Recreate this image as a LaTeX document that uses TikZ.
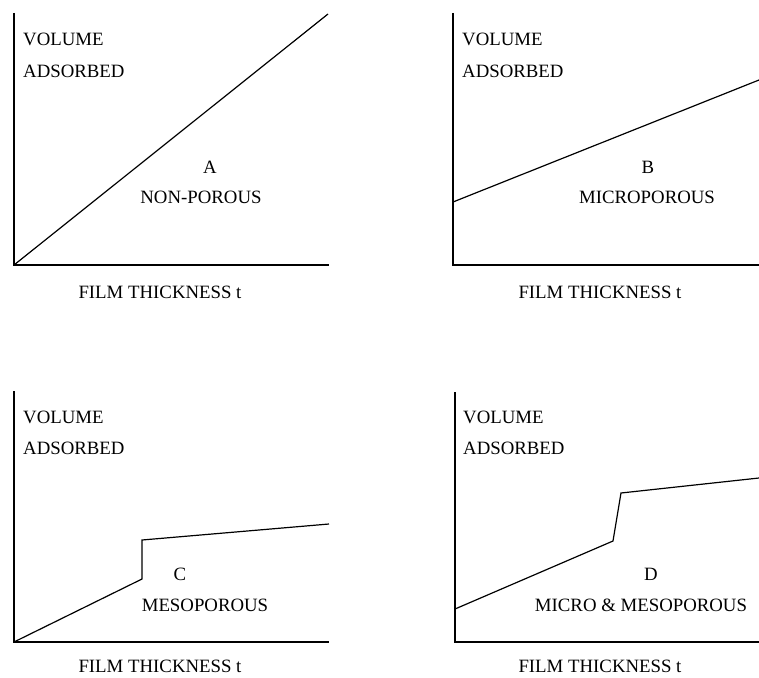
\documentclass[tikz,border=0pt]{standalone}
\usepackage{fontspec}
\setmainfont{Liberation Serif}
\usetikzlibrary{positioning}

\begin{document}
\begin{tikzpicture}[
    x=1pt, y=-1pt,
    every node/.style={font=\fontsize{18.8}{22}\selectfont, inner sep=0pt, align=center},
    axis/.style={line width=1.3pt, color=black},
    curve/.style={line width=1.2pt, color=black, line join=miter},
    ylbl/.style={anchor=west}
]
\useasboundingbox (0,0) rectangle (759,677);

% Panel A: non-porous
\coordinate (a_top) at (14,13);
\coordinate (a_o) at (14,265);
\coordinate (a_end) at (329,265);
\coordinate (a_p1) at (328,14);
\draw[axis] (a_top) -- (a_o) -- (a_end);
\draw[curve] (a_o) -- (a_p1);
\node[ylbl] (a_vol) at (23,39) {VOLUME};
\node[ylbl] (a_ads) at (23,71) {ADSORBED};
\node (a_lbl) at (210,167) {A};
\node (a_typ) at (201,197) {NON-POROUS};
\node (a_x) at (160,292) {FILM THICKNESS t};

% Panel B: microporous
\coordinate (b_top) at (453,13);
\coordinate (b_o) at (453,265);
\coordinate (b_end) at (759,265);
\coordinate (b_p0) at (453,202);
\coordinate (b_p1) at (759,80);
\draw[axis] (b_top) -- (b_o) -- (b_end);
\draw[curve] (b_p0) -- (b_p1);
\node[ylbl] (b_vol) at (462,39) {VOLUME};
\node[ylbl] (b_ads) at (462,71) {ADSORBED};
\node (b_lbl) at (648,167) {B};
\node (b_typ) at (647,197) {MICROPOROUS};
\node (b_x) at (600,292) {FILM THICKNESS t};

% Panel C: mesoporous
\coordinate (c_top) at (14,391);
\coordinate (c_o) at (14,642);
\coordinate (c_end) at (329,642);
\coordinate (c_p1) at (142,579);
\coordinate (c_p2) at (142,540);
\coordinate (c_p3) at (329,524);
\draw[axis] (c_top) -- (c_o) -- (c_end);
\draw[curve] (c_o) -- (c_p1) -- (c_p2) -- (c_p3);
\node[ylbl] (c_vol) at (23,417) {VOLUME};
\node[ylbl] (c_ads) at (23,448) {ADSORBED};
\node (c_lbl) at (180,574) {C};
\node (c_typ) at (205,605) {MESOPOROUS};
\node (c_x) at (160,666) {FILM THICKNESS t};

% Panel D: micro & mesoporous
\coordinate (d_top) at (455,392);
\coordinate (d_o) at (455,642);
\coordinate (d_end) at (759,642);
\coordinate (d_p0) at (455,609);
\coordinate (d_p1) at (613,541);
\coordinate (d_p2) at (621,493);
\coordinate (d_p3) at (759,478);
\draw[axis] (d_top) -- (d_o) -- (d_end);
\draw[curve] (d_p0) -- (d_p1) -- (d_p2) -- (d_p3);
\node[ylbl] (d_vol) at (463,417) {VOLUME};
\node[ylbl] (d_ads) at (463,448) {ADSORBED};
\node (d_lbl) at (651,574) {D};
\node (d_typ) at (641,605) {MICRO \& MESOPOROUS};
\node (d_x) at (600,666) {FILM THICKNESS t};

\end{tikzpicture}
\end{document}
